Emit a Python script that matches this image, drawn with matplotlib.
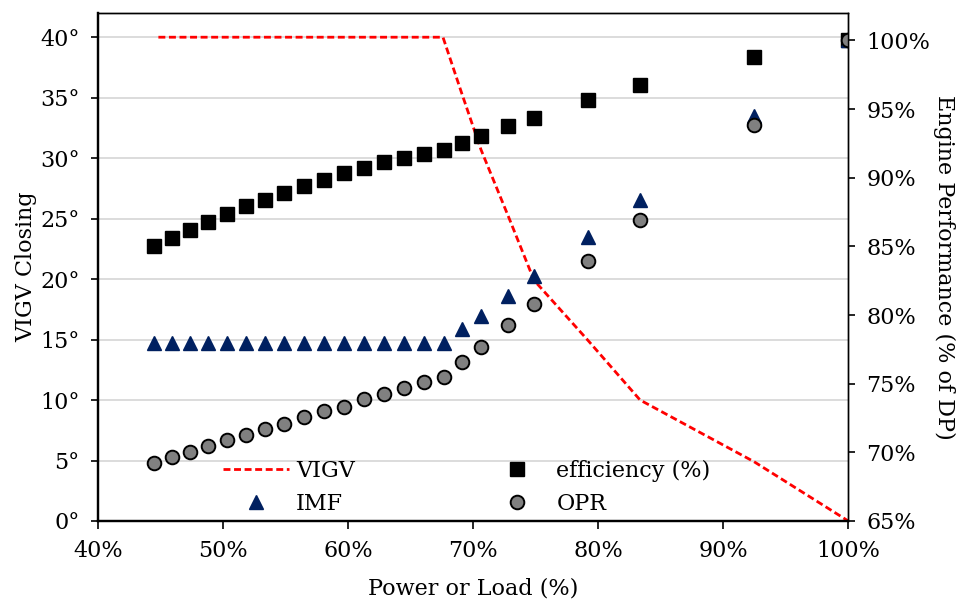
import matplotlib.pyplot as plt

plt.rcParams['font.family'] = ['DejaVu Serif']

# Load points (% of design power)
load = [44.52, 45.96, 47.35, 48.84, 50.34, 51.83, 53.37, 54.87, 56.47, 58.07,
        59.66, 61.26, 62.86, 64.48, 66.08, 67.66, 69.12, 70.64, 72.82, 74.88,
        79.22, 83.36, 92.47, 100.0]

# Engine performance (% of design point)
efficiency = [85.05, 85.64, 86.22, 86.80, 87.39, 87.92, 88.41, 88.90, 89.43, 89.87,
              90.35, 90.69, 91.13, 91.47, 91.76, 92.05, 92.54, 93.02, 93.75, 94.36,
              95.70, 96.77, 98.78, 100.0]
imf = [77.96, 77.96, 77.96, 77.96, 77.96, 77.96, 77.96, 77.96, 77.96, 77.96,
       77.96, 77.96, 77.96, 77.96, 77.96, 77.96, 78.98, 79.90, 81.41, 82.87,
       85.66, 88.41, 94.48, 100.0]
opr = [69.25, 69.69, 70.03, 70.47, 70.88, 71.29, 71.73, 72.09, 72.58, 73.00,
       73.33, 73.85, 74.28, 74.70, 75.11, 75.52, 76.59, 77.67, 79.29, 80.82,
       83.91, 86.95, 93.82, 100.0]

# VIGV closing schedule (degrees)
vigv_load = [44.85, 67.6, 69.12, 70.64, 72.82, 74.88, 79.22, 83.36, 92.47, 100.0]
vigv_deg = [40.0, 40.0, 35.3, 30.7, 25.2, 19.9, 14.9, 10.0, 4.9, 0.0]

x_ticks = [40, 50, 60, 70, 80, 90, 100]
x_labels = ['40%', '50%', '60%', '70%', '80%', '90%', '100%']
left_ticks = [0, 5, 10, 15, 20, 25, 30, 35, 40]
left_labels = ['0°', '5°', '10°', '15°', '20°', '25°', '30°', '35°', '40°']
right_ticks = [65, 70, 75, 80, 85, 90, 95, 100]
right_labels = ['65%', '70%', '75%', '80%', '85%', '90%', '95%', '100%']

fig = plt.figure(figsize=(9.6, 6), dpi=100)
ax = fig.add_axes([0.1018, 0.1317, 0.7818, 0.8466])
ax2 = ax.twinx()

fs = 16

vigv_line, = ax.plot(vigv_load, vigv_deg, color='#ff0000', lw=2.0,
                     dashes=(2.5, 1.3), label='VIGV')
ax.set_xlim(40, 100)
ax.set_ylim(0, 42)
ax.set_xticks(x_ticks)
ax.set_xticklabels(x_labels)
ax.set_yticks(left_ticks)
ax.set_yticklabels(left_labels)
ax.grid(axis='y', color='#d9d9d9', lw=1.3)
ax.set_axisbelow(True)
ax.tick_params(axis='y', direction='out', length=5, width=1.2, pad=8, labelsize=fs)
ax.tick_params(axis='x', direction='out', length=6, width=1.2, pad=8, labelsize=fs)
ax.set_xlabel('Power or Load (%)', fontsize=fs, labelpad=11)
ax.set_ylabel('VIGV Closing', fontsize=fs, labelpad=2)

eff_pts, = ax2.plot(load, efficiency, ls='none', marker='s', ms=10.5,
                    color='black', mec='black', label='efficiency (%)')
imf_pts, = ax2.plot(load, imf, ls='none', marker='^', ms=10.5,
                    color='#002060', mec='#002060', label='IMF')
opr_pts, = ax2.plot(load, opr, ls='none', marker='o', ms=9.8,
                    mfc='#808080', mec='black', mew=1.4, label='OPR')
ax2.set_ylim(65, 102)
ax2.set_yticks(right_ticks)
ax2.set_yticklabels(right_labels)
ax2.tick_params(axis='y', direction='out', length=5, width=1.2, pad=8, labelsize=fs)
ax2.set_ylabel('Engine Performance (% of DP)', fontsize=fs, rotation=270, labelpad=18)

for a in (ax, ax2):
    a.spines['left'].set_linewidth(1.6)
    a.spines['bottom'].set_linewidth(1.6)
    a.spines['top'].set_linewidth(1.0)
    a.spines['right'].set_linewidth(1.0)
    for s in a.spines.values():
        s.set_color('black')

ax2.legend(handles=[vigv_line, imf_pts, eff_pts, opr_pts], ncol=2, frameon=False,
           loc='center left', bbox_to_anchor=(0.1673, 0.066), borderpad=0,
           borderaxespad=0, fontsize=fs, handlelength=2.97, handletextpad=0.3,
           columnspacing=5.8, labelspacing=0.5, numpoints=1)

fig.savefig('out.png', dpi=100)
